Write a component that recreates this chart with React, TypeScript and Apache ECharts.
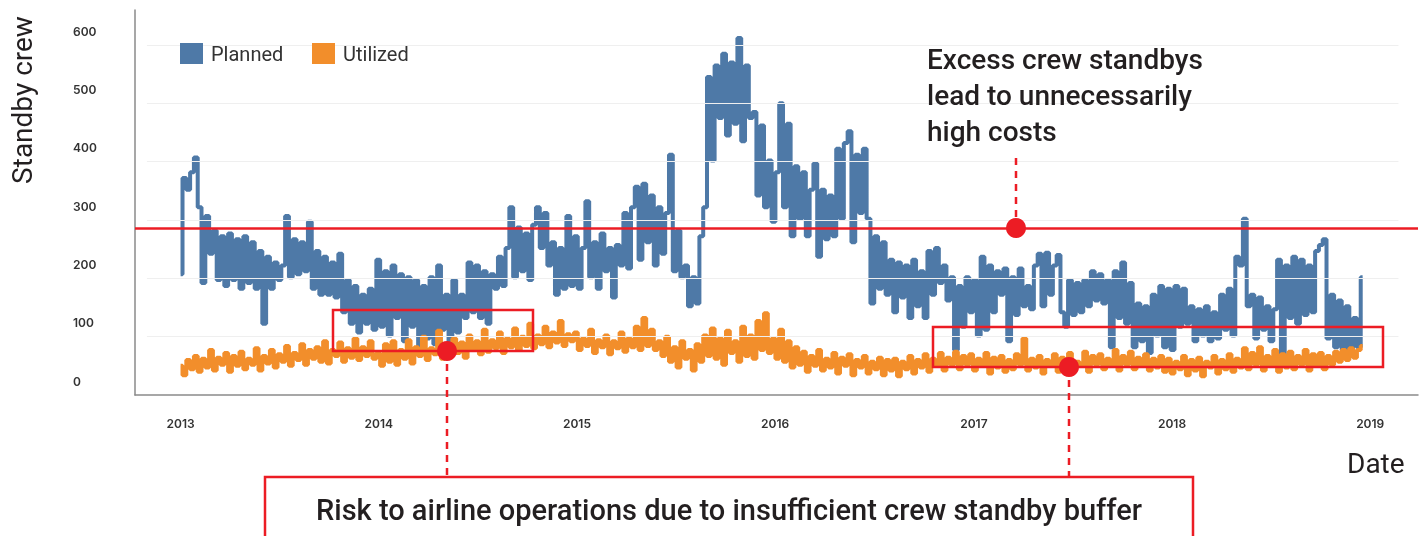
import React, { useEffect, useRef } from "react";
import * as echarts from "echarts";

// Weekly samples starting 2013-01-01 (52 per year)
const planned2013 = [207,372,352,382,407,322,192,307,242,282,197,272,187,277,197,267,182,272,192,262,182,247,122,237,182,227,197,222,307,202,267,207,262,212,297,182,247,172,237,172,227,167,242,142,197,122,187,107,172,122,182,112];
const planned2014 = [232,117,212,102,222,132,207,92,202,117,197,82,187,97,202,87,222,112,172,92,197,107,172,132,227,142,222,132,212,122,207,182,237,187,252,322,202,287,212,277,197,292,322,252,312,222,262,172,252,182,307,187];
const planned2015 = [272,182,252,332,202,262,182,277,212,252,167,257,222,312,217,322,357,232,362,262,342,222,322,242,312,412,212,282,202,222,152,202,157,272,322,545,402,565,475,585,445,570,465,612,435,565,475,485,342,462,322,402];
const planned2016 = [297,382,500,322,465,272,392,302,382,272,352,397,237,352,267,342,272,422,302,432,452,262,412,312,422,302,157,272,182,262,172,232,142,227,167,222,132,232,152,212,132,247,172,252,192,222,162,202,77,187,117,202];
const planned2017 = [142,197,102,237,112,222,142,212,172,217,92,202,137,217,152,187,147,222,242,152,244,172,222,240,142,117,197,137,192,142,197,152,212,162,207,157,197,82,212,132,227,122,192,82,157,92,152,72,172,102,187,82];
const planned2018 = [182,77,187,117,182,122,152,92,147,102,152,92,142,97,172,112,182,102,237,222,302,152,172,97,167,112,152,92,147,232,67,222,132,237,122,232,137,222,142,247,257,267,97,172,82,162,77,152,72,132,82,202];

const utilized2013 = [50,34,60,44,67,40,62,47,77,42,64,52,72,40,67,50,74,44,62,52,80,42,67,54,77,47,70,57,84,50,72,60,87,52,77,62,82,57,92,54,77,67,90,57,80,64,97,60,82,67,92,62];
const utilized2014 = [72,50,87,57,92,52,77,62,94,54,82,67,100,60,80,70,110,62,84,67,97,72,90,64,102,77,92,70,112,74,94,80,107,72,97,82,114,77,100,84,122,80,102,87,117,82,107,90,127,84,104,92];
const utilized2015 = [107,77,97,84,112,72,94,82,102,70,92,80,107,74,97,82,117,77,132,84,112,77,92,67,100,57,82,47,92,62,77,42,87,57,102,67,114,62,97,52,110,72,92,57,117,67,102,62,127,77,140,72];
const utilized2016 = [97,62,112,57,92,47,82,52,74,40,67,50,77,42,62,47,72,37,64,50,70,34,60,47,67,37,57,44,64,34,60,42,62,32,57,44,67,37,60,47,70,40,62,50,72,42,64,52,74,44,67,52];
const utilized2017 = [70,42,62,50,72,37,64,47,67,40,60,44,70,52,97,42,62,47,67,37,60,50,70,40,64,47,72,42,57,50,74,40,67,52,70,44,62,50,77,42,67,52,74,44,64,50,70,42,62,47,67,40];
const utilized2018 = [62,37,57,44,67,34,60,42,64,32,57,47,67,37,60,44,70,40,62,47,80,44,72,52,82,42,67,50,77,40,70,47,74,44,67,52,77,42,70,50,72,44,67,52,74,57,77,60,80,64,77,84];

const yearTicks = [2013, 2014, 2015, 2016, 2017, 2018, 2019];
const yTicks = [100, 200, 300, 400, 500, 600];
const thresholdValue = 286;
const seriesNames = ["Planned", "Utilized"];

const planned = [...planned2013, ...planned2014, ...planned2015, ...planned2016, ...planned2017, ...planned2018];
const utilized = [...utilized2013, ...utilized2014, ...utilized2015, ...utilized2016, ...utilized2017, ...utilized2018];

// x axis: days since 2013-01-01
const DAY = 86400000;
const START = Date.UTC(2013, 0, 1);
const dayOf = (y: number) => Math.round((Date.UTC(y, 0, 1) - START) / DAY);
const days = planned.map((_, i) => i * 7);
const yearDays = yearTicks.map(dayOf);

const BLUE = "#4e79a7";
const ORANGE = "#f28e2b";
const RED = "#ec1c24";
const TEXT = "#231f20";

export default function App() {
  const ref = useRef<HTMLDivElement>(null);
  useEffect(() => {
    if (!ref.current) return;
    const chart = echarts.init(ref.current, null, { renderer: "svg" });
    const end = dayOf(2019);
    const xMin = -84;
    const xMax = end + 88;
    const gStart = -62;
    const gEnd = end + 52;
    const dashed = { stroke: RED, lineWidth: 2.5, lineDash: [7, 6] };
    chart.setOption({
      animation: false,
      grid: { left: 135, right: 4, top: 10, bottom: 141 },
      xAxis: {
        type: "value",
        min: xMin,
        max: xMax,
        axisLine: { show: true, onZero: false, lineStyle: { color: "#8a8a8a", width: 1.5 } },
        axisTick: { show: false },
        splitLine: { show: false },
        axisLabel: {
          customValues: yearDays,
          formatter: (v: number) => {
            const k = yearDays.indexOf(Math.round(v));
            return k >= 0 ? String(yearTicks[k]) : "";
          },
          fontFamily: "Inter",
          fontWeight: 600,
          fontSize: 12,
          color: "#333",
          margin: 22,
        },
      },
      yAxis: {
        type: "value",
        min: 0,
        max: 660,
        interval: 100,
        axisLine: { show: true, onZero: false, lineStyle: { color: "#8a8a8a", width: 1.5 } },
        axisTick: { show: false },
        splitLine: { show: false },
        axisLabel: {
          showMaxLabel: false,
          align: "left",
          verticalAlign: "bottom",
          margin: 62,
          padding: [0, 0, 8, 0],
          fontFamily: "Inter",
          fontWeight: 600,
          fontSize: 12,
          color: "#333",
        },
      },
      series: [
        {
          name: "grid",
          type: "line",
          data: [[gStart, 0]],
          showSymbol: false,
          lineStyle: { opacity: 0 },
          z: 1,
          silent: true,
          markLine: {
            silent: true,
            symbol: "none",
            label: { show: false },
            lineStyle: { color: "#efefef", width: 1, type: "solid" },
            data: yTicks.map((v) => [{ coord: [gStart, v] }, { coord: [gEnd, v] }]),
          },
        },
        {
          name: seriesNames[0],
          type: "line",
          step: "middle",
          data: days.map((d, i) => [d, planned[i]]),
          showSymbol: false,
          lineStyle: { color: BLUE, width: 4 },
          itemStyle: { color: BLUE },
          z: 2,
          markLine: {
            silent: true,
            symbol: "none",
            label: { show: false },
            lineStyle: { color: RED, width: 2.5, type: "solid" },
            data: [{ yAxis: thresholdValue }],
          },
        },
        {
          name: seriesNames[1],
          type: "line",
          step: "middle",
          data: days.map((d, i) => [d, utilized[i]]),
          showSymbol: false,
          lineStyle: { color: ORANGE, width: 4 },
          itemStyle: { color: ORANGE },
          z: 3,
        },
      ],
      graphic: [
        // legend
        { type: "rect", z: 100, shape: { x: 180, y: 43, width: 23, height: 21 }, style: { fill: BLUE } },
        { type: "text", z: 100, x: 211, y: 54, style: { text: seriesNames[0], fill: "#333", font: "400 20px Roboto", verticalAlign: "middle" } },
        { type: "rect", z: 100, shape: { x: 312, y: 43, width: 23, height: 21 }, style: { fill: ORANGE } },
        { type: "text", z: 100, x: 343, y: 54, style: { text: seriesNames[1], fill: "#333", font: "400 20px Roboto", verticalAlign: "middle" } },
        // annotations
        { type: "rect", z: 100, shape: { x: 333, y: 310, width: 200, height: 41 }, style: { fill: "none", stroke: RED, lineWidth: 2.5 } },
        { type: "rect", z: 100, shape: { x: 933, y: 327, width: 450, height: 40 }, style: { fill: "none", stroke: RED, lineWidth: 2.5 } },
        { type: "line", z: 100, shape: { x1: 1016, y1: 158, x2: 1016, y2: 228 }, style: dashed },
        { type: "line", z: 100, shape: { x1: 447, y1: 351, x2: 447, y2: 477 }, style: dashed },
        { type: "line", z: 100, shape: { x1: 1069, y1: 367, x2: 1069, y2: 477 }, style: dashed },
        { type: "circle", z: 101, shape: { cx: 1016, cy: 228, r: 10 }, style: { fill: RED } },
        { type: "circle", z: 101, shape: { cx: 447, cy: 351, r: 10 }, style: { fill: RED } },
        { type: "circle", z: 101, shape: { cx: 1069, cy: 367, r: 10 }, style: { fill: RED } },
        { type: "rect", z: 100, shape: { x: 265, y: 477, width: 928, height: 80 }, style: { fill: "#fff", stroke: RED, lineWidth: 2.5 } },
        {
          type: "text",
          z: 102,
          x: 729,
          y: 510,
          style: {
            text: "Risk to airline operations due to insufficient crew standby buffer",
            fill: TEXT,
            font: "500 29px Roboto",
            align: "center",
            verticalAlign: "middle",
          },
        },
        {
          type: "text",
          z: 102,
          x: 927,
          y: 41,
          style: {
            text: "Excess crew standbys\nlead to unnecessarily\nhigh costs",
            fill: TEXT,
            font: "500 28px Roboto",
            lineHeight: 36,
            align: "left",
            verticalAlign: "top",
          },
        },
        {
          type: "text",
          z: 102,
          x: 22,
          y: 100,
          rotation: Math.PI / 2,
          style: {
            text: "Standby crew",
            fill: TEXT,
            font: "400 28px Roboto",
            align: "center",
            verticalAlign: "middle",
          },
        },
        {
          type: "text",
          z: 102,
          x: 1347,
          y: 463,
          style: {
            text: "Date",
            fill: TEXT,
            font: "400 28px Roboto",
            align: "left",
            verticalAlign: "middle",
          },
        },
      ],
    });
    return () => chart.dispose();
  }, []);
  return <div ref={ref} style={{ position: "fixed", left: 0, top: 0, width: 1422, height: 536 }} />;
}
